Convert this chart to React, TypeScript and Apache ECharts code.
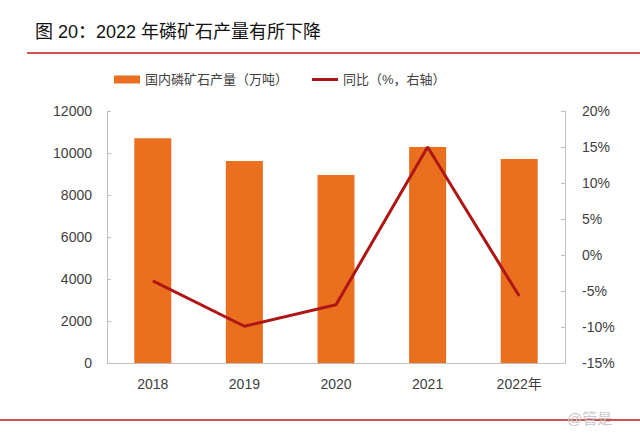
import React, { useEffect, useRef } from "react";
import * as echarts from "echarts";

const categories = ["2018", "2019", "2020", "2021", "2022年"];
const output = [10700, 9620, 8950, 10290, 9710];
const yoy = [-3.6, -9.9, -6.9, 15.0, -5.7];
const barName = "国内磷矿石产量（万吨）";
const lineName = "同比（%，右轴）";
const title = "图 20：2022 年磷矿石产量有所下降";

const FONT = "'Liberation Sans', 'Noto Sans CJK SC', sans-serif";
const AXIS_COLOR = "#bfbfbf";
const LABEL_COLOR = "#404040";

export default function App() {
  const ref = useRef<HTMLDivElement>(null);
  useEffect(() => {
    if (!ref.current) return;
    const chart = echarts.init(ref.current, null, { renderer: "svg" });
    chart.setOption({
      animation: false,
      backgroundColor: "#ffffff",
      textStyle: { fontFamily: FONT },
      grid: { left: 107, right: 75, top: 111, bottom: 79 },
      legend: [
        {
          left: 109,
          top: 68,
          itemWidth: 26,
          itemHeight: 8,
          data: [{ name: barName, icon: "rect" }],
          textStyle: { fontSize: 13, color: LABEL_COLOR, fontFamily: FONT },
        },
        {
          left: 307,
          top: 68,
          itemWidth: 26,
          itemHeight: 3,
          data: [{ name: lineName, icon: "rect" }],
          textStyle: { fontSize: 13, color: LABEL_COLOR, fontFamily: FONT },
        },
      ],
      xAxis: {
        type: "category",
        data: categories,
        axisLine: { lineStyle: { color: AXIS_COLOR } },
        axisTick: { inside: true, length: 4, lineStyle: { color: AXIS_COLOR } },
        axisLabel: { color: LABEL_COLOR, fontSize: 14, margin: 14, fontFamily: FONT },
      },
      yAxis: [
        {
          type: "value",
          min: 0,
          max: 12000,
          interval: 2000,
          axisLine: { show: true, lineStyle: { color: AXIS_COLOR } },
          axisTick: { show: true, inside: true, length: 4, lineStyle: { color: AXIS_COLOR } },
          splitLine: { show: false },
          axisLabel: {
            color: LABEL_COLOR,
            fontSize: 14,
            margin: 15,
            fontFamily: FONT,
            formatter: (v: number) => `${v}`,
          },
        },
        {
          type: "value",
          min: -15,
          max: 20,
          interval: 5,
          position: "right",
          axisLine: { show: true, lineStyle: { color: AXIS_COLOR } },
          axisTick: { show: true, inside: true, length: 4, lineStyle: { color: AXIS_COLOR } },
          splitLine: { show: false },
          axisLabel: {
            color: LABEL_COLOR,
            fontSize: 14,
            margin: 17,
            fontFamily: FONT,
            formatter: (v: number) => `${v}%`,
          },
        },
      ],
      series: [
        {
          name: barName,
          type: "bar",
          data: output,
          barWidth: 37,
          itemStyle: { color: "#EA7020" },
        },
        {
          name: lineName,
          type: "line",
          yAxisIndex: 1,
          data: yoy,
          symbol: "none",
          lineStyle: { color: "#B01515", width: 3 },
          itemStyle: { color: "#B01515" },
        },
      ],
      graphic: [
        {
          type: "text",
          left: 35,
          top: 23,
          style: { text: title, fontSize: 18, fill: "#111", fontFamily: FONT },
        },
        {
          type: "line",
          shape: { x1: 27, y1: 53, x2: 640, y2: 53 },
          style: { stroke: "#C0161E", lineWidth: 1.5 },
        },
        {
          type: "line",
          shape: { x1: 0, y1: 420, x2: 640, y2: 420 },
          style: { stroke: "#C0161E", lineWidth: 1.5 },
        },
        {
          type: "text",
          left: 567,
          top: 411,
          style: { text: "@管是", fontSize: 15, fill: "#c8c8c8", fontFamily: FONT },
        },
      ],
    });
    return () => chart.dispose();
  }, []);
  return (
    <div
      ref={ref}
      style={{ position: "absolute", left: 0, top: 0, width: 640, height: 442 }}
    />
  );
}
